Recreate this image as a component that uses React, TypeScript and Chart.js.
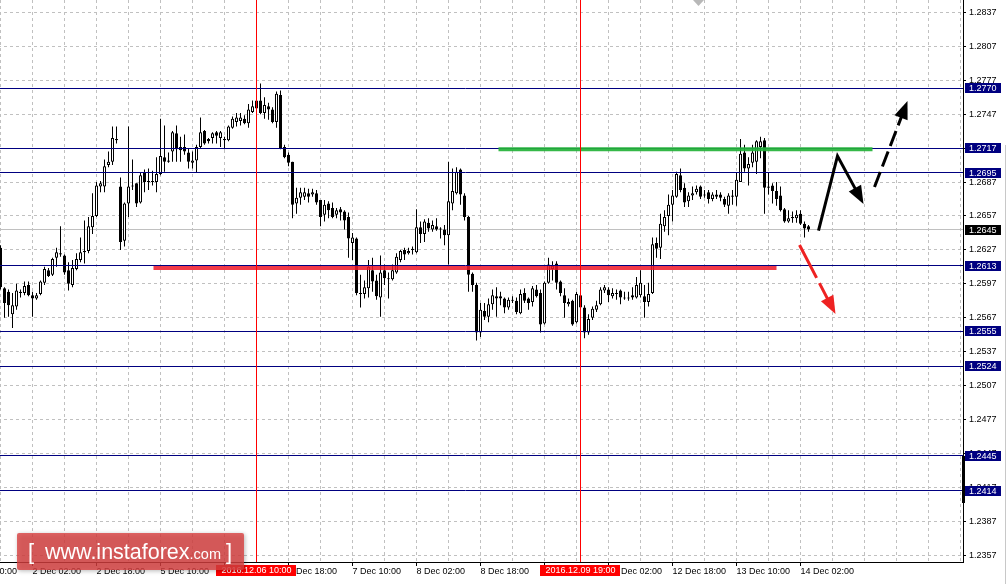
import React, { useEffect, useRef } from "react";
import { Chart, registerables } from "chart.js";

Chart.register(...registerables);

// H1 GBP/USD bars, bar 0 = 1 Dec 2016 18:00
const opens = [
  1.2629, 1.2593, 1.2590, 1.2570, 1.2577, 1.2589, 1.2589, 1.2596, 1.2587, 1.2584,
  1.2588, 1.2598, 1.2609, 1.2605, 1.2620, 1.2624, 1.2622, 1.2609, 1.2596, 1.2610,
  1.2618, 1.2626, 1.2626, 1.2647, 1.2657, 1.2683, 1.2683, 1.2702, 1.2705, 1.2725,
  1.2683, 1.2635, 1.2668, 1.2684, 1.2686, 1.2669, 1.2695, 1.2687, 1.2687, 1.2687,
  1.2694, 1.2709, 1.2705, 1.2714, 1.2730, 1.2718, 1.2718, 1.2713, 1.2704, 1.2706,
  1.2718, 1.2732, 1.2725, 1.2726, 1.2731, 1.2726, 1.2725, 1.2724, 1.2735, 1.2740,
  1.2741, 1.2743, 1.2739, 1.2749, 1.2759, 1.2759, 1.2748, 1.2754, 1.2751, 1.2740,
  1.2764, 1.2718, 1.2711, 1.2705, 1.2668, 1.2673, 1.2674, 1.2677, 1.2676, 1.2677,
  1.2671, 1.2658, 1.2668, 1.2664, 1.2658, 1.2663, 1.2661, 1.2656, 1.2633, 1.2637,
  1.2589, 1.2588, 1.2593, 1.2609, 1.2600, 1.2585, 1.2609, 1.2602, 1.2601, 1.2607,
  1.2618, 1.2627, 1.2624, 1.2628, 1.2625, 1.2647, 1.2641, 1.2651, 1.2645, 1.2648,
  1.2646, 1.2645, 1.2640, 1.2668, 1.2677, 1.2698, 1.2675, 1.2656, 1.2606, 1.2596,
  1.2554, 1.2573, 1.2568, 1.2579, 1.2586, 1.2586, 1.2584, 1.2576, 1.2583, 1.2582,
  1.2571, 1.2589, 1.2584, 1.2581, 1.2592, 1.2589, 1.2562, 1.2598, 1.2610, 1.2615,
  1.2599, 1.2587, 1.2579, 1.2582, 1.2563, 1.2587, 1.2576, 1.2554, 1.2567, 1.2574,
  1.2579, 1.2591, 1.2592, 1.2586, 1.2589, 1.2591, 1.2585, 1.2585, 1.2587, 1.2585,
  1.2587, 1.2586, 1.2581, 1.2589, 1.2633, 1.2629, 1.2648, 1.2657, 1.2667, 1.2674,
  1.2693, 1.2682, 1.2670, 1.2675, 1.2678, 1.2683, 1.2676, 1.2678, 1.2672, 1.2676,
  1.2676, 1.2672, 1.2666, 1.2675, 1.2674, 1.2687, 1.2713, 1.2699, 1.2704, 1.2705,
  1.2718, 1.2724, 1.2683, 1.2684, 1.2679, 1.2675, 1.2663, 1.2652, 1.2655, 1.2655,
  1.2659, 1.2650, 1.2648,
];
const highs = [
  1.2631, 1.2594, 1.2592, 1.2589, 1.2597, 1.2592, 1.2599, 1.2599, 1.2590, 1.2589,
  1.2600, 1.2612, 1.2611, 1.2620, 1.2629, 1.2648, 1.2623, 1.2616, 1.2618, 1.2624,
  1.2638, 1.2653, 1.2656, 1.2677, 1.2687, 1.2688, 1.2707, 1.2714, 1.2736, 1.2736,
  1.2691, 1.2669, 1.2736, 1.2707, 1.2686, 1.2695, 1.2698, 1.2699, 1.2697, 1.2709,
  1.2743, 1.2737, 1.2713, 1.2732, 1.2737, 1.2727, 1.2729, 1.2717, 1.2714, 1.2720,
  1.2744, 1.2733, 1.2726, 1.2731, 1.2732, 1.2732, 1.2727, 1.2737, 1.2745, 1.2748,
  1.2748, 1.2746, 1.2756, 1.2759, 1.2760, 1.2774, 1.2762, 1.2757, 1.2753, 1.2767,
  1.2768, 1.2720, 1.2713, 1.2705, 1.2682, 1.2682, 1.2682, 1.2681, 1.2681, 1.2680,
  1.2671, 1.2671, 1.2670, 1.2669, 1.2664, 1.2665, 1.2662, 1.2660, 1.2642, 1.2638,
  1.2605, 1.2600, 1.2618, 1.2620, 1.2605, 1.2622, 1.2614, 1.2607, 1.2614, 1.2624,
  1.2627, 1.2629, 1.2629, 1.2630, 1.2663, 1.2652, 1.2654, 1.2655, 1.2653, 1.2655,
  1.2647, 1.2649, 1.2705, 1.2699, 1.2700, 1.2699, 1.2677, 1.2657, 1.2607, 1.2598,
  1.2580, 1.2580, 1.2584, 1.2592, 1.2594, 1.2590, 1.2585, 1.2585, 1.2586, 1.2585,
  1.2592, 1.2593, 1.2585, 1.2595, 1.2596, 1.2592, 1.2599, 1.2620, 1.2617, 1.2617,
  1.2600, 1.2593, 1.2584, 1.2583, 1.2590, 1.2588, 1.2578, 1.2570, 1.2577, 1.2582,
  1.2594, 1.2596, 1.2594, 1.2593, 1.2592, 1.2592, 1.2590, 1.2590, 1.2594, 1.2603,
  1.2609, 1.2596, 1.2598, 1.2638, 1.2638, 1.2659, 1.2662, 1.2676, 1.2680, 1.2696,
  1.2699, 1.2686, 1.2678, 1.2683, 1.2684, 1.2684, 1.2680, 1.2680, 1.2678, 1.2680,
  1.2678, 1.2674, 1.2677, 1.2680, 1.2695, 1.2725, 1.2720, 1.2709, 1.2720, 1.2724,
  1.2727, 1.2726, 1.2695, 1.2686, 1.2687, 1.2683, 1.2664, 1.2662, 1.2661, 1.2662,
  1.2662, 1.2652, 1.2649,
];
const lows = [
  1.2592, 1.2567, 1.2568, 1.2558, 1.2574, 1.2585, 1.2587, 1.2586, 1.2568, 1.2583,
  1.2587, 1.2596, 1.2603, 1.2604, 1.2612, 1.2621, 1.2605, 1.2591, 1.2594, 1.2609,
  1.2616, 1.2615, 1.2624, 1.2641, 1.2656, 1.2678, 1.2678, 1.2700, 1.2702, 1.2721,
  1.2627, 1.2630, 1.2656, 1.2680, 1.2665, 1.2668, 1.2678, 1.2680, 1.2684, 1.2678,
  1.2693, 1.2696, 1.2704, 1.2705, 1.2705, 1.2705, 1.2711, 1.2699, 1.2699, 1.2695,
  1.2717, 1.2720, 1.2721, 1.2721, 1.2721, 1.2718, 1.2716, 1.2723, 1.2734, 1.2736,
  1.2737, 1.2738, 1.2735, 1.2748, 1.2751, 1.2747, 1.2743, 1.2742, 1.2739, 1.2735,
  1.2716, 1.2708, 1.2701, 1.2655, 1.2659, 1.2667, 1.2671, 1.2669, 1.2674, 1.2667,
  1.2648, 1.2652, 1.2655, 1.2655, 1.2655, 1.2653, 1.2645, 1.2620, 1.2618, 1.2587,
  1.2576, 1.2584, 1.2585, 1.2590, 1.2583, 1.2568, 1.2596, 1.2584, 1.2600, 1.2606,
  1.2616, 1.2618, 1.2623, 1.2623, 1.2624, 1.2633, 1.2634, 1.2643, 1.2643, 1.2644,
  1.2637, 1.2631, 1.2614, 1.2662, 1.2676, 1.2667, 1.2653, 1.2590, 1.2590, 1.2547,
  1.2550, 1.2565, 1.2563, 1.2574, 1.2568, 1.2578, 1.2571, 1.2574, 1.2580, 1.2570,
  1.2570, 1.2580, 1.2574, 1.2577, 1.2585, 1.2554, 1.2561, 1.2597, 1.2600, 1.2592,
  1.2586, 1.2567, 1.2577, 1.2560, 1.2562, 1.2567, 1.2549, 1.2552, 1.2565, 1.2572,
  1.2578, 1.2589, 1.2581, 1.2584, 1.2583, 1.2579, 1.2583, 1.2582, 1.2583, 1.2584,
  1.2585, 1.2567, 1.2577, 1.2588, 1.2620, 1.2619, 1.2643, 1.2640, 1.2652, 1.2673,
  1.2678, 1.2665, 1.2665, 1.2671, 1.2676, 1.2672, 1.2673, 1.2668, 1.2670, 1.2672,
  1.2670, 1.2665, 1.2659, 1.2667, 1.2666, 1.2687, 1.2696, 1.2684, 1.2700, 1.2694,
  1.2708, 1.2659, 1.2676, 1.2668, 1.2666, 1.2661, 1.2651, 1.2651, 1.2651, 1.2651,
  1.2649, 1.2638, 1.2643,
];
const closes = [
  1.2594, 1.2580, 1.2578, 1.2578, 1.2591, 1.2590, 1.2595, 1.2587, 1.2584, 1.2587,
  1.2599, 1.2610, 1.2604, 1.2619, 1.2625, 1.2623, 1.2607, 1.2597, 1.2611, 1.2619,
  1.2625, 1.2625, 1.2648, 1.2657, 1.2684, 1.2686, 1.2701, 1.2705, 1.2726, 1.2724,
  1.2634, 1.2668, 1.2683, 1.2683, 1.2668, 1.2693, 1.2687, 1.2688, 1.2688, 1.2694,
  1.2710, 1.2705, 1.2706, 1.2731, 1.2716, 1.2715, 1.2714, 1.2705, 1.2706, 1.2718,
  1.2731, 1.2721, 1.2723, 1.2730, 1.2728, 1.2731, 1.2724, 1.2736, 1.2743, 1.2744,
  1.2744, 1.2739, 1.2751, 1.2754, 1.2752, 1.2748, 1.2755, 1.2751, 1.2740, 1.2765,
  1.2717, 1.2709, 1.2704, 1.2667, 1.2673, 1.2678, 1.2678, 1.2674, 1.2678, 1.2669,
  1.2656, 1.2667, 1.2662, 1.2656, 1.2662, 1.2660, 1.2653, 1.2637, 1.2638, 1.2589,
  1.2588, 1.2594, 1.2612, 1.2599, 1.2586, 1.2607, 1.2602, 1.2601, 1.2609, 1.2621,
  1.2626, 1.2623, 1.2626, 1.2627, 1.2647, 1.2641, 1.2652, 1.2646, 1.2649, 1.2645,
  1.2645, 1.2640, 1.2670, 1.2679, 1.2696, 1.2676, 1.2656, 1.2605, 1.2596, 1.2554,
  1.2574, 1.2568, 1.2579, 1.2587, 1.2584, 1.2584, 1.2576, 1.2583, 1.2582, 1.2572,
  1.2588, 1.2582, 1.2580, 1.2593, 1.2586, 1.2561, 1.2598, 1.2614, 1.2613, 1.2598,
  1.2589, 1.2580, 1.2581, 1.2561, 1.2588, 1.2576, 1.2554, 1.2566, 1.2575, 1.2578,
  1.2592, 1.2594, 1.2587, 1.2589, 1.2588, 1.2585, 1.2584, 1.2584, 1.2585, 1.2596,
  1.2598, 1.2581, 1.2588, 1.2632, 1.2628, 1.2650, 1.2656, 1.2667, 1.2675, 1.2694,
  1.2680, 1.2669, 1.2675, 1.2677, 1.2681, 1.2674, 1.2675, 1.2672, 1.2676, 1.2674,
  1.2673, 1.2667, 1.2675, 1.2674, 1.2689, 1.2712, 1.2699, 1.2703, 1.2713, 1.2723,
  1.2723, 1.2682, 1.2682, 1.2679, 1.2672, 1.2662, 1.2652, 1.2655, 1.2656, 1.2658,
  1.2650, 1.2646, 1.2645,
];

// time axis (bar indices) and labels
const gridBars = [
  -8, 0, 8, 16, 24, 32, 40, 48, 56, 64, 72, 80, 88, 96, 104, 112, 120, 128, 136,
  144, 152, 160, 168, 176, 184, 192, 200, 208, 216, 224, 232, 240,
];
const labelBars = [-8, 8, 24, 40, 56, 72, 88, 104, 120, 136, 152, 168, 184, 200];
const labelTexts = [
  "1 Dec 10:00", "2 Dec 02:00", "2 Dec 18:00", "5 Dec 10:00", "6 Dec 02:00",
  "6 Dec 18:00", "7 Dec 10:00", "8 Dec 02:00", "8 Dec 18:00", "9 Dec 10:00",
  "12 Dec 02:00", "12 Dec 18:00", "13 Dec 10:00", "14 Dec 02:00",
];

const priceTicks = [
  1.2357, 1.2387, 1.2417, 1.2447, 1.2477, 1.2507, 1.2537, 1.2567, 1.2597,
  1.2627, 1.2657, 1.2687, 1.2717, 1.2747, 1.2777, 1.2807, 1.2837,
];

const levelPrices = [1.277, 1.2717, 1.2695, 1.2613, 1.2555, 1.2524, 1.2445, 1.2414];
const bidPrice = 1.2645;

const markerBars = [64, 145];
const markerTexts = ["2016.12.06 10:00", "2016.12.09 19:00"];

// [from bar, to bar, price]
const supportLine = [38.25, 194, 1.2611];
const resistanceLine = [124.5, 218, 1.2716];

// forecast arrows: bar positions and prices
const upPathBars = [204.5, 209.25, 215.75];
const upPathPrices = [1.2644, 1.271, 1.26676];
const breakoutBars = [218.5, 226.75];
const breakoutPrices = [1.26826, 1.27586];
const downBars = [199.75, 208.75];
const downPrices = [1.26313, 1.25703];

const X_MIN = -8.125;
const X_MAX = 240.625;
const Y_MIN = 1.23511;
const Y_MAX = 1.28479;

const FONT = "'Liberation Sans', Arial, sans-serif";
const NAVY = "#000080";

function drawArrow(
  ctx: CanvasRenderingContext2D,
  pts: number[][],
  color: string,
  width: number,
  dash: number[],
  headLen: number,
  headHalf: number
) {
  const n = pts.length;
  const [tx, ty] = pts[n - 1];
  const [px, py] = pts[n - 2];
  const len = Math.hypot(tx - px, ty - py);
  const ux = (tx - px) / len;
  const uy = (ty - py) / len;
  const bx = tx - ux * headLen;
  const by = ty - uy * headLen;
  ctx.save();
  ctx.strokeStyle = color;
  ctx.lineWidth = width;
  ctx.setLineDash(dash);
  ctx.lineJoin = "miter";
  ctx.lineCap = "butt";
  ctx.beginPath();
  ctx.moveTo(pts[0][0], pts[0][1]);
  for (let k = 1; k < n - 1; k++) ctx.lineTo(pts[k][0], pts[k][1]);
  ctx.lineTo(bx + ux * 2, by + uy * 2);
  ctx.stroke();
  ctx.setLineDash([]);
  ctx.fillStyle = color;
  ctx.beginPath();
  ctx.moveTo(tx, ty);
  ctx.lineTo(bx - uy * headHalf, by + ux * headHalf);
  ctx.lineTo(bx + uy * headHalf, by - ux * headHalf);
  ctx.closePath();
  ctx.fill();
  ctx.restore();
}

const noPad = (s: any) => {
  s.paddingTop = 0;
  s.paddingBottom = 0;
  s.paddingLeft = 0;
  s.paddingRight = 0;
};

const overlayPlugin = {
  id: "mt4overlay",
  beforeDatasetsDraw(chart: any) {
    const { ctx, chartArea: a, scales } = chart;
    const y = scales.y;
    ctx.save();
    ctx.strokeStyle = "#c0c0c0";
    ctx.lineWidth = 1;
    const by = Math.floor(y.getPixelForValue(bidPrice)) + 0.5;
    ctx.beginPath();
    ctx.moveTo(a.left, by);
    ctx.lineTo(a.right, by);
    ctx.stroke();
    ctx.restore();
  },
  afterDatasetsDraw(chart: any) {
    const { ctx, chartArea: a, scales } = chart;
    const x = scales.x;
    const y = scales.y;
    ctx.save();
    ctx.beginPath();
    ctx.rect(a.left, a.top, a.right - a.left, a.bottom - a.top);
    ctx.clip();

    // horizontal levels
    ctx.strokeStyle = NAVY;
    ctx.lineWidth = 1;
    levelPrices.forEach((p) => {
      const py = Math.floor(y.getPixelForValue(p)) + 0.5;
      ctx.beginPath();
      ctx.moveTo(a.left, py);
      ctx.lineTo(a.right, py);
      ctx.stroke();
    });

    // support (red) and resistance (green) zones
    ctx.lineCap = "butt";
    ctx.strokeStyle = "rgba(238,24,40,0.85)";
    ctx.lineWidth = 4;
    let ly = y.getPixelForValue(supportLine[2]);
    ctx.beginPath();
    ctx.moveTo(x.getPixelForValue(supportLine[0]), ly);
    ctx.lineTo(x.getPixelForValue(supportLine[1]), ly);
    ctx.stroke();

    ctx.strokeStyle = "rgba(36,178,56,0.92)";
    ctx.lineWidth = 4;
    ly = y.getPixelForValue(resistanceLine[2]);
    ctx.beginPath();
    ctx.moveTo(x.getPixelForValue(resistanceLine[0]), ly);
    ctx.lineTo(x.getPixelForValue(resistanceLine[1]), ly);
    ctx.stroke();

    // vertical time markers
    ctx.strokeStyle = "#ff0000";
    ctx.lineWidth = 1;
    markerBars.forEach((b) => {
      const px = Math.floor(x.getPixelForValue(b)) + 0.5;
      ctx.beginPath();
      ctx.moveTo(px, a.top);
      ctx.lineTo(px, a.bottom);
      ctx.stroke();
    });

    // forecast arrows
    const toPts = (bars: number[], prices: number[]) =>
      bars.map((b, k) => [x.getPixelForValue(b), y.getPixelForValue(prices[k])]);
    drawArrow(ctx, toPts(downBars, downPrices), "#ee2222", 3, [37, 6, 200], 18, 7);
    drawArrow(ctx, toPts(upPathBars, upPathPrices), "#000000", 3, [], 18, 7);
    drawArrow(ctx, toPts(breakoutBars, breakoutPrices), "#000000", 3, [16, 6], 18, 7);
    ctx.restore();
  },
  afterDraw(chart: any) {
    const { ctx, chartArea: a, scales } = chart;
    const x = scales.x;
    const y = scales.y;
    const off = x.getPixelForValue(0) - 0.5; // canvas x of page x = 0
    ctx.save();
    ctx.font = `9px ${FONT}`;
    ctx.textBaseline = "middle";
    ctx.textAlign = "left";

    // price boxes on the axis
    const box = (p: number, bg: string) => {
      const py = Math.round(y.getPixelForValue(p));
      ctx.fillStyle = bg;
      ctx.fillRect(y.left + 2, py - 5, 36, 10);
      ctx.fillStyle = "#ffffff";
      ctx.fillText(p.toFixed(4), y.left + 6, py + 0.5);
    };
    levelPrices.forEach((p) => box(p, NAVY));
    box(bidPrice, "#000000");

    // odd black marker on the price scale
    ctx.fillStyle = "#000";
    ctx.fillRect(a.right - 1, 456, 3, 47);

    // time boxes
    ctx.textAlign = "center";
    markerBars.forEach((b, k) => {
      const px = Math.floor(x.getPixelForValue(b)) + 0.5;
      ctx.fillStyle = "#ff0000";
      ctx.fillRect(px - 40.5, a.bottom + 3, 80, 11);
      ctx.fillStyle = "#ffffff";
      ctx.fillText(markerTexts[k], px, a.bottom + 9);
    });

    // chart shift marker
    ctx.fillStyle = "#b8b8b8";
    ctx.beginPath();
    ctx.moveTo(off + 693, 0);
    ctx.lineTo(off + 704, 0);
    ctx.lineTo(off + 698.5, 6);
    ctx.closePath();
    ctx.fill();

    // right edge of neighbouring panel
    ctx.strokeStyle = "#c8c8c8";
    ctx.lineWidth = 1;
    ctx.beginPath();
    ctx.moveTo(off + 1005.5, 145);
    ctx.lineTo(off + 1005.5, 584);
    ctx.stroke();

    // watermark
    ctx.save();
    ctx.shadowColor = "rgba(0,0,0,0.35)";
    ctx.shadowBlur = 4;
    ctx.shadowOffsetX = 1;
    ctx.shadowOffsetY = 1;
    ctx.fillStyle = "rgba(218,64,64,0.8)";
    ctx.beginPath();
    ctx.roundRect(off + 17, 533, 227, 37, 2);
    ctx.fill();
    ctx.restore();
    ctx.fillStyle = "#ffffff";
    ctx.textAlign = "left";
    ctx.textBaseline = "alphabetic";
    ctx.font = `22px ${FONT}`;
    ctx.fillText("[", off + 28, 559);
    ctx.fillText("]", off + 226, 559);
    ctx.font = `21.5px ${FONT}`;
    const main = "www.instaforex";
    ctx.fillText(main, off + 45, 559);
    const w = ctx.measureText(main).width;
    ctx.font = `14.5px ${FONT}`;
    ctx.fillText(".com", off + 45 + w, 559);
    ctx.restore();
  },
};

export default function App() {
  const ref = useRef<HTMLCanvasElement>(null);
  useEffect(() => {
    document.body.style.margin = "0";
    const canvas = ref.current;
    if (!canvas) return;
    const bars = opens.map((_, i) => i);
    const wickData = bars.map((i) => ({ x: i, y: [lows[i], highs[i]] }));
    const bodyData = bars.map((i) => ({ x: i, y: [opens[i], closes[i]] }));
    const bodyColors = bars.map((i) => (closes[i] >= opens[i] ? "#ffffff" : "#000000"));

    const chart = new Chart(canvas, {
      type: "bar",
      data: {
        datasets: [
          {
            label: "body",
            data: bodyData as any,
            backgroundColor: bodyColors,
            borderColor: "#000000",
            borderWidth: 1,
            borderSkipped: false,
            barThickness: 3,
            minBarLength: 1,
            grouped: false,
            inflateAmount: 0,
            order: 1,
          } as any,
          {
            label: "wick",
            data: wickData as any,
            backgroundColor: "#000000",
            borderWidth: 0,
            barThickness: 1,
            grouped: false,
            inflateAmount: 0,
            order: 2,
          } as any,
        ],
      },
      options: {
        responsive: false,
        maintainAspectRatio: false,
        devicePixelRatio: 1,
        animation: false,
        events: [],
        layout: { padding: 0, autoPadding: false } as any,
        plugins: {
          legend: { display: false },
          tooltip: { enabled: false },
          title: { display: false },
        },
        scales: {
          x: {
            type: "linear",
            position: "bottom",
            min: X_MIN,
            max: X_MAX,
            bounds: "data",
            offset: false,
            afterBuildTicks: (s: any) => {
              s.ticks = gridBars.map((v) => ({ value: v }));
            },
            afterFit: (s: any) => {
              s.height = 22;
              noPad(s);
            },
            grid: {
              offset: false,
              color: "#c0c0c0",
              lineWidth: 1,
              drawTicks: true,
              tickLength: 4,
              tickWidth: 1,
              tickColor: (c: any) =>
                c.tick && labelBars.indexOf(c.tick.value) >= 0 ? "#000000" : "rgba(0,0,0,0)",
            },
            border: { display: true, color: "#000000", width: 1, dash: [3, 3] },
            ticks: {
              autoSkip: false,
              maxRotation: 0,
              minRotation: 0,
              align: "start",
              padding: 0,
              color: "#000000",
              font: { family: FONT, size: 9 },
              callback: (v: any) => {
                const k = labelBars.indexOf(Number(v));
                return k >= 0 ? labelTexts[k] : "";
              },
            },
          } as any,
          y: {
            type: "linear",
            position: "right",
            min: Y_MIN,
            max: Y_MAX,
            bounds: "data",
            afterBuildTicks: (s: any) => {
              s.ticks = priceTicks.map((v) => ({ value: v }));
            },
            afterFit: (s: any) => {
              s.width = 43;
              noPad(s);
            },
            grid: {
              color: "#c0c0c0",
              lineWidth: 1,
              drawTicks: true,
              tickLength: 3,
              tickWidth: 1,
              tickColor: "#000000",
            },
            border: { display: true, color: "#000000", width: 1, dash: [3, 3] },
            ticks: {
              padding: 3,
              color: "#000000",
              font: { family: FONT, size: 9 },
              callback: (v: any) => Number(v).toFixed(4),
            },
          } as any,
        },
      },
      plugins: [overlayPlugin],
    });
    return () => chart.destroy();
  }, []);

  return (
    <div
      style={{
        position: "absolute",
        left: 0,
        top: 0,
        width: 1006,
        height: 584,
        overflow: "hidden",
        background: "#ffffff",
      }}
    >
      <canvas
        ref={ref}
        width={1038}
        height={584}
        style={{ position: "absolute", left: -32, top: 0, width: 1038, height: 584 }}
      />
    </div>
  );
}
